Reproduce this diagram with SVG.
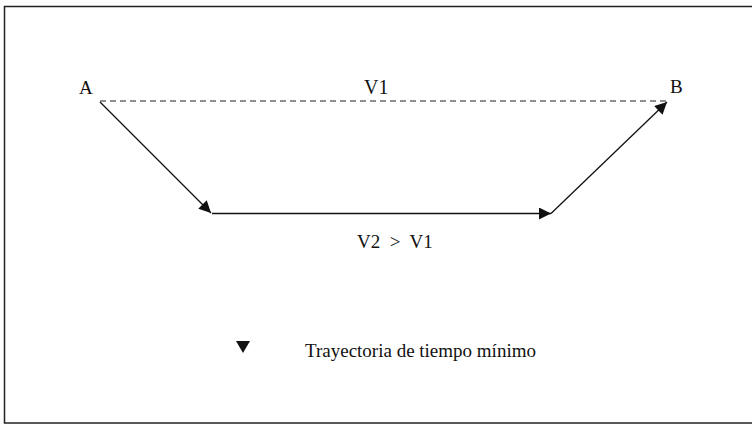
<svg xmlns="http://www.w3.org/2000/svg" width="752" height="425" viewBox="0 0 752 425">
<style>
.t{font-family:"Liberation Serif","Times New Roman",serif;fill:#111}
.l{stroke:#111;stroke-width:1.3;fill:none}
</style>
<defs>
<marker id="ah" viewBox="0 0 10 10" refX="10" refY="5" markerWidth="15" markerHeight="12" markerUnits="userSpaceOnUse" orient="auto">
<path d="M0,0 L10,5 L0,10 Z" fill="#111"/>
</marker>
</defs>
<rect x="4.5" y="6.5" width="800" height="416.5" fill="#fff" stroke="#222" stroke-width="1.5"/>
<g id="nodeA"><text class="t" x="79" y="94" font-size="19">A</text></g>
<g id="nodeB"><text class="t" x="670" y="93" font-size="19">B</text></g>
<g id="connectors">
<line x1="100" y1="101" x2="668" y2="101" stroke="#222" stroke-width="1.2" stroke-dasharray="6,4"/>
<line class="l" x1="100" y1="102" x2="211" y2="213" marker-end="url(#ah)"/>
<line class="l" x1="212" y1="213.5" x2="551" y2="213.5" marker-end="url(#ah)"/>
<line class="l" x1="551" y1="213.5" x2="667" y2="102" marker-end="url(#ah)"/>
</g>
<g id="labels">
<text class="t" x="364" y="94" font-size="20">V1</text>
<text class="t" x="357" y="248" font-size="19" xml:space="preserve">V2  &gt;  V1</text>
</g>
<g id="legend">
<path d="M236,341 L250,341 L243,353 Z" fill="#111"/>
<text class="t" x="305" y="357" font-size="19">Trayectoria de tiempo mínimo</text>
</g>
</svg>
